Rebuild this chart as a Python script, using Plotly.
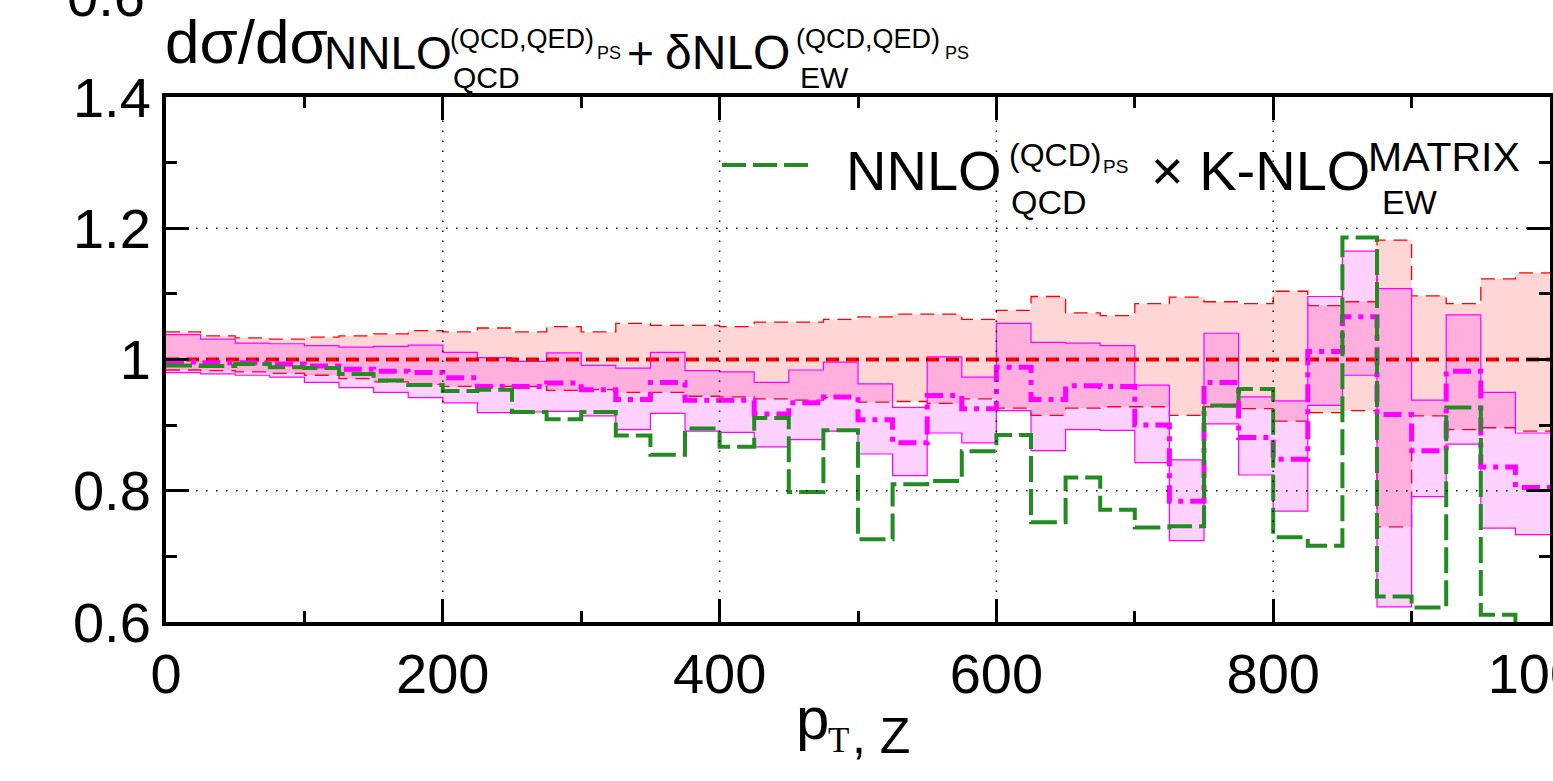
import plotly.graph_objects as go

# Binning in p_T,Z (GeV): 40 bins of 25 GeV
bin_edges = [0, 25, 50, 75, 100, 125, 150, 175, 200, 225, 250, 275, 300, 325,
             350, 375, 400, 425, 450, 475, 500, 525, 550, 575, 600, 625, 650,
             675, 700, 725, 750, 775, 800, 825, 850, 875, 900, 925, 950, 975, 1000]

# Reference NNLO_QCD + dNLO_EW (ratio to itself) and its scale band
ref_central = [1.0, 1.0, 1.0, 1.0, 1.0, 1.0, 1.0, 1.0, 1.0, 1.0,
               1.0, 1.0, 1.0, 1.0, 1.0, 1.0, 1.0, 1.0, 1.0, 1.0,
               1.0, 1.0, 1.0, 1.0, 1.0, 1.0, 1.0, 1.0, 1.0, 1.0,
               1.0, 1.0, 1.0, 1.0, 1.0, 1.0, 1.0, 1.0, 1.0, 1.0]
ref_upper = [1.042, 1.036, 1.033, 1.031, 1.034, 1.036, 1.039, 1.044, 1.042, 1.048,
             1.042, 1.050, 1.042, 1.055, 1.052, 1.052, 1.050, 1.057, 1.057, 1.061,
             1.065, 1.069, 1.069, 1.061, 1.075, 1.096, 1.071, 1.067, 1.085, 1.095,
             1.088, 1.085, 1.104, 1.082, 1.088, 1.182, 1.097, 1.085, 1.123, 1.132]
ref_lower = [0.984, 0.983, 0.981, 0.979, 0.976, 0.971, 0.966, 0.962, 0.959, 0.959,
             0.959, 0.953, 0.954, 0.950, 0.950, 0.944, 0.943, 0.940, 0.938, 0.942,
             0.935, 0.936, 0.933, 0.940, 0.926, 0.915, 0.926, 0.928, 0.928, 0.915,
             0.928, 0.925, 0.906, 0.919, 0.922, 0.745, 0.914, 0.893, 0.896, 0.891]

# Alternative prediction (magenta) with its band
alt_central = [0.996, 0.995, 0.995, 0.993, 0.990, 0.985, 0.982, 0.980, 0.972, 0.959,
               0.959, 0.964, 0.954, 0.939, 0.965, 0.938, 0.938, 0.917, 0.934, 0.943,
               0.908, 0.873, 0.945, 0.925, 0.988, 0.939, 0.960, 0.959, 0.900, 0.784,
               0.965, 0.881, 0.848, 1.012, 1.065, 0.916, 0.861, 0.982, 0.836, 0.805]
alt_upper = [1.038, 1.031, 1.025, 1.024, 1.021, 1.019, 1.020, 1.022, 1.011, 1.003,
             0.997, 1.010, 0.991, 0.987, 1.011, 0.983, 0.981, 0.965, 0.984, 0.996,
             0.963, 0.927, 1.004, 0.973, 1.055, 1.026, 1.025, 1.021, 0.961, 0.847,
             1.040, 0.943, 0.937, 1.096, 1.165, 1.108, 0.938, 1.068, 0.950, 0.888]
alt_lower = [0.980, 0.978, 0.976, 0.973, 0.965, 0.957, 0.950, 0.942, 0.934, 0.919,
             0.920, 0.921, 0.914, 0.893, 0.918, 0.891, 0.889, 0.867, 0.878, 0.891,
             0.856, 0.823, 0.888, 0.873, 0.922, 0.861, 0.893, 0.892, 0.843, 0.724,
             0.902, 0.824, 0.769, 0.930, 0.976, 0.623, 0.791, 0.871, 0.743, 0.733]

# NNLO_QCD x K-NLO_EW (MATRIX)
kfac_central = [0.991, 0.990, 0.993, 0.988, 0.987, 0.978, 0.968, 0.961, 0.952, 0.954,
                0.920, 0.909, 0.920, 0.884, 0.855, 0.895, 0.867, 0.911, 0.798, 0.892,
                0.726, 0.810, 0.815, 0.860, 0.885, 0.752, 0.820, 0.771, 0.744, 0.746,
                0.930, 0.955, 0.729, 0.716, 1.186, 0.639, 0.622, 0.927, 0.611, 0.570]

x_tickvals = [0, 200, 400, 600, 800, 1000]
x_ticktext = ["0", "200", "400", "600", "800", "1000"]
x_minor = [100, 300, 500, 700, 900]
y_tickvals = [0.6, 0.8, 1.0, 1.2, 1.4]
y_ticktext = ["0.6", "0.8", "1", "1.2", "1.4"]
y_minor = [0.7, 0.9, 1.1, 1.3]
x_grid = [200, 400, 600, 800]
y_grid = [0.8, 1.0, 1.2]

W, H = 1553, 781
ML, MR, MT, MB = 166, 3, 97, 159
PW, PH = W - ML - MR, H - MT - MB
SANS = "Liberation Sans, Arial, Helvetica, sans-serif"
SERIF = "Liberation Serif, Times New Roman, serif"

RED = "#ff0000"
MAG = "#ff00ff"
GREEN = "#228b22"


def step(vals):
    """Histogram outline: value held over each bin, closed at the last edge."""
    return bin_edges, list(vals) + [vals[-1]]


fig = go.Figure()

x, y = step(ref_lower)
fig.add_trace(go.Scatter(x=x, y=y, mode="lines", line_shape="hv",
                         line=dict(color=RED, width=1.3, dash="14px,8px"),
                         hoverinfo="skip"))
x, y = step(ref_upper)
fig.add_trace(go.Scatter(x=x, y=y, mode="lines", line_shape="hv", fill="tonexty",
                         fillcolor="rgba(255,0,0,0.16)",
                         line=dict(color=RED, width=1.3, dash="14px,8px"),
                         hoverinfo="skip"))
x, y = step(alt_lower)
fig.add_trace(go.Scatter(x=x, y=y, mode="lines", line_shape="hv",
                         line=dict(color=MAG, width=1.2), hoverinfo="skip"))
x, y = step(alt_upper)
fig.add_trace(go.Scatter(x=x, y=y, mode="lines", line_shape="hv", fill="tonexty",
                         fillcolor="rgba(255,0,255,0.18)",
                         line=dict(color=MAG, width=1.2), hoverinfo="skip"))
x, y = step(ref_central)
fig.add_trace(go.Scatter(x=x, y=y, mode="lines", line_shape="hv",
                         line=dict(color=RED, width=4, dash="13px,7px"),
                         hoverinfo="skip"))
x, y = step(alt_central)
fig.add_trace(go.Scatter(x=x, y=y, mode="lines", line_shape="hv",
                         line=dict(color=MAG, width=5, dash="18px,7px,5px,7px"),
                         hoverinfo="skip"))
x, y = step(kfac_central)
fig.add_trace(go.Scatter(x=x, y=y, mode="lines", line_shape="hv",
                         line=dict(color=GREEN, width=4, dash="26px,7px"),
                         hoverinfo="skip"))

# dotted grid drawn over the histograms
for gx in x_grid:
    fig.add_shape(type="line", xref="x", yref="paper", x0=gx, x1=gx, y0=0, y1=1,
                  layer="above", line=dict(color="black", width=1.5, dash="1.5px,8.5px"))
for gy in y_grid:
    fig.add_shape(type="line", xref="paper", yref="y", x0=0, x1=1, y0=gy, y1=gy,
                  layer="above", line=dict(color="black", width=1.5, dash="1.5px,8.5px"))


def px_to_paper(px, py):
    return (px - ML) / PW, (H - MB - py) / PH


def label(text, px, baseline, size, family=SANS, anchor="left"):
    xp, yp = px_to_paper(px, baseline - 0.3465 * size)
    fig.add_annotation(text=text, x=xp, y=yp, xref="paper", yref="paper",
                       xanchor=anchor, yanchor="middle", showarrow=False,
                       borderpad=0, font=dict(size=size, family=family, color="black"))


# y-axis title
label("d\u03c3/d\u03c3", 164, 63, 62)
label("NNLO", 323, 69, 46)
label("(QCD,QED)", 449, 48, 27)
label("PS", 596, 59, 18)
label("QCD", 452, 88, 30)
label("+", 626, 69, 46)
label("\u03b4NLO", 664, 69, 48)
label("(QCD,QED)", 795, 48, 27)
label("PS", 944, 59, 18)
label("EW", 799, 88, 30)

# tick label of the panel above, cut by the page edge
label("0.6", 146, 16, 56, anchor="right")

# legend
lx0, ly = px_to_paper(722, 165)
lx1, _ = px_to_paper(812, 165)
fig.add_shape(type="line", xref="paper", yref="paper", x0=lx0, x1=lx1, y0=ly, y1=ly,
              layer="above", line=dict(color=GREEN, width=4, dash="24px,7px"))
label("NNLO", 845, 190, 56)
label("(QCD)", 1008, 166, 32)
label("PS", 1102, 173, 19)
label("QCD", 1010, 214, 34)
label("\u00d7 K-NLO", 1150, 190, 56)
label("MATRIX", 1367, 171, 41)
label("EW", 1381, 214, 34)

# x-axis title
label("p", 795, 739, 60)
label("T", 827, 753, 35, family=SERIF)
label(", Z", 851, 753, 50)

axis_common = dict(showline=True, linewidth=4, linecolor="black", mirror="ticks",
                   ticks="inside", ticklen=23, tickwidth=3, tickcolor="black",
                   showgrid=False, zeroline=False, ticklabeloverflow="allow",
                   automargin=False,
                   tickfont=dict(size=56, family=SANS, color="black"))

fig.update_layout(
    width=W, height=H, autosize=False,
    margin=dict(l=ML, r=MR, t=MT, b=MB, pad=0, autoexpand=False),
    paper_bgcolor="white", plot_bgcolor="white",
    showlegend=False,
    xaxis=dict(range=[0, 1000], tickmode="array", tickvals=x_tickvals, ticktext=x_ticktext,
               minor=dict(ticks="inside", ticklen=11, tickwidth=3, tickcolor="black",
                          tickmode="array", tickvals=x_minor, showgrid=False),
               **axis_common),
    yaxis=dict(range=[0.6, 1.4], tickmode="array", tickvals=y_tickvals, ticktext=y_ticktext,
               minor=dict(ticks="inside", ticklen=11, tickwidth=3, tickcolor="black",
                          tickmode="array", tickvals=y_minor, showgrid=False),
               **axis_common),
)

fig.write_html("out.html", config={"displayModeBar": False})
